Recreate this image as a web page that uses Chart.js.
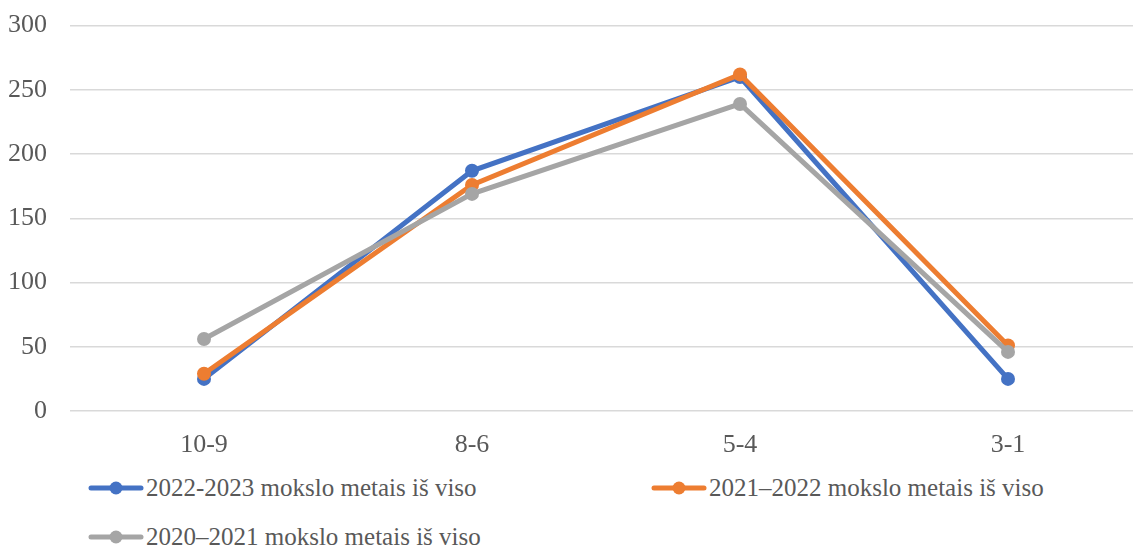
<!DOCTYPE html>
<html>
<head>
<meta charset="utf-8">
<script src="https://cdn.jsdelivr.net/npm/chart.js@4"></script>
<style>
    html, body { margin: 0; padding: 0; background: #fff; overflow: hidden; }
    #wrap { position: relative; width: 1149px; height: 547px; }
    #chartBox { position: absolute; left: 0; top: -13px; width: 1149px; height: 478px; }
    .legend-item {
        position: absolute;
        display: flex;
        align-items: center;
        font-family: 'Liberation Serif', 'Times New Roman', serif;
        font-size: 25px;
        color: #595959;
        white-space: nowrap;
    }
    .legend-item canvas { margin-right: 2px; }
</style>
</head>
<body>
<div id="wrap">
    <div id="chartBox"><canvas id="lineChart"></canvas></div>
</div>
<script>
// ================================================
// DATA
// ================================================
const categories = ['10-9', '8-6', '5-4', '3-1'];

const seriesNames = [
    '2022-2023 mokslo metais iš viso',
    '2021–2022 mokslo metais iš viso',
    '2020–2021 mokslo metais iš viso'
];

const values2223 = [25, 187, 260, 25];
const values2122 = [29, 176, 262, 51];
const values2021 = [56, 169, 239, 46];

const seriesColors = ['#4472C4', '#ED7D31', '#A5A5A5'];

const yTicks = [0, 50, 100, 150, 200, 250, 300];

// legend slots (two columns like the original)
const legendSlots = [
    { left: 88, top: 474 },
    { left: 651, top: 474 },
    { left: 88, top: 523 }
];

const FONT = "'Liberation Serif', 'Times New Roman', serif";
const TEXT_COLOR = '#595959';
const GRID_COLOR = '#D9D9D9';

// ================================================
// CHART
// ================================================
function makeDataset(label, data, color, order) {
    return {
        label: label,
        data: data,
        borderColor: color,
        backgroundColor: color,
        borderWidth: 5,
        tension: 0,
        fill: false,
        pointRadius: 7,
        pointHoverRadius: 7,
        pointBackgroundColor: color,
        pointBorderColor: color,
        pointBorderWidth: 0,
        order: order
    };
}

const ctx = document.getElementById('lineChart');

const lineChart = new Chart(ctx, {
    type: 'line',
    data: {
        labels: categories,
        datasets: [
            makeDataset(seriesNames[0], values2223, seriesColors[0], 2),
            makeDataset(seriesNames[1], values2122, seriesColors[1], 1),
            makeDataset(seriesNames[2], values2021, seriesColors[2], 0)
        ]
    },
    options: {
        responsive: true,
        maintainAspectRatio: false,
        animation: false,
        layout: {
            padding: { top: 0, left: 0, right: 0, bottom: 0 }
        },
        plugins: {
            legend: { display: false },
            tooltip: { enabled: false }
        },
        scales: {
            x: {
                offset: true,
                afterFit: (axis) => { axis.height = 54; },
                grid: { display: false },
                border: { display: false },
                ticks: {
                    color: TEXT_COLOR,
                    padding: 11,
                    font: { size: 26, family: FONT }
                }
            },
            y: {
                min: 0,
                max: 300,
                afterBuildTicks: (axis) => {
                    axis.ticks = yTicks.map(v => ({ value: v }));
                },
                afterFit: (axis) => { axis.width = 70; },
                grid: {
                    color: GRID_COLOR,
                    lineWidth: 1.5,
                    drawTicks: false
                },
                border: { display: false },
                ticks: {
                    color: TEXT_COLOR,
                    padding: 23,
                    font: { size: 26, family: FONT }
                }
            }
        }
    }
});

// ================================================
// LEGEND (html, built from the same arrays)
// ================================================
const wrap = document.getElementById('wrap');
seriesNames.forEach((name, i) => {
    const item = document.createElement('div');
    item.className = 'legend-item';
    item.style.left = legendSlots[i].left + 'px';
    item.style.top = legendSlots[i].top + 'px';

    const sym = document.createElement('canvas');
    sym.width = 56;
    sym.height = 16;
    const g = sym.getContext('2d');
    g.strokeStyle = seriesColors[i];
    g.lineWidth = 5;
    g.lineCap = 'round';
    g.beginPath();
    g.moveTo(3, 8);
    g.lineTo(53, 8);
    g.stroke();
    g.fillStyle = seriesColors[i];
    g.beginPath();
    g.arc(28, 8, 6.5, 0, Math.PI * 2);
    g.fill();

    const txt = document.createElement('span');
    txt.textContent = name;

    item.appendChild(sym);
    item.appendChild(txt);
    wrap.appendChild(item);
});
</script>
</body>
</html>
